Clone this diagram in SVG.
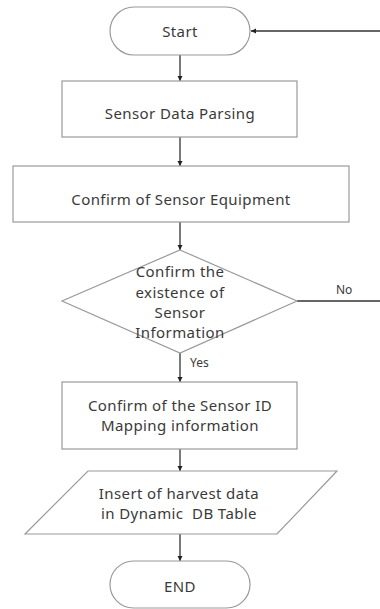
<svg xmlns="http://www.w3.org/2000/svg" width="380" height="609" viewBox="0 0 380 609">
<style>
.shape{fill:#fff;stroke:#9a9a9a;stroke-width:1.2}
.t{font-family:"Noto Sans","Open Sans",sans-serif;font-size:15px;letter-spacing:0.4px;fill:#3a3a3a;text-anchor:middle}
.lbl{font-family:"Noto Sans","Open Sans",sans-serif;font-size:12px;fill:#3a3a3a}
.c{stroke:#333;stroke-width:1.3;fill:none}
</style>
<defs>
<marker id="ah" markerWidth="6" markerHeight="6" refX="5" refY="3" orient="auto" markerUnits="userSpaceOnUse">
<path d="M0,0.5 L5,3 L0,5.5 Z" fill="#222"/>
</marker>
</defs>
<rect width="380" height="609" fill="#fff"/>
<g id="connectors">
<line class="c" x1="380" y1="31" x2="251" y2="31" marker-end="url(#ah)"/>
<line class="c" x1="180" y1="55" x2="180" y2="81" marker-end="url(#ah)"/>
<line class="c" x1="180" y1="137" x2="180" y2="166" marker-end="url(#ah)"/>
<line class="c" x1="180" y1="222" x2="180" y2="250" marker-end="url(#ah)"/>
<line class="c" x1="297" y1="301" x2="380" y2="301"/>
<line class="c" x1="180" y1="353" x2="180" y2="382" marker-end="url(#ah)"/>
<line class="c" x1="180" y1="449" x2="180" y2="471" marker-end="url(#ah)"/>
<line class="c" x1="180" y1="534" x2="180" y2="561" marker-end="url(#ah)"/>
<text class="lbl" x="336" y="294">No</text>
<text class="lbl" x="190" y="367">Yes</text>
</g>
<g id="start">
<rect class="shape" x="110" y="7" width="140" height="48" rx="24"/>
<text class="t" x="180" y="37">Start</text>
</g>
<g id="parsing">
<rect class="shape" x="62" y="81" width="235" height="56"/>
<text class="t" x="180" y="119">Sensor Data Parsing</text>
</g>
<g id="equipment">
<rect class="shape" x="13" y="166" width="336" height="56"/>
<text class="t" x="181" y="205">Confirm of Sensor Equipment</text>
</g>
<g id="decision">
<polygon class="shape" points="180,250 297,301 180,353 62,301"/>
<text class="t" x="180" y="277">Confirm the</text>
<text class="t" x="180" y="298">existence of</text>
<text class="t" x="180" y="318">Sensor</text>
<text class="t" x="180" y="338">Information</text>
</g>
<g id="mapping">
<rect class="shape" x="62" y="382" width="235" height="67"/>
<text class="t" x="180" y="411">Confirm of the Sensor ID</text>
<text class="t" x="180" y="431">Mapping information</text>
</g>
<g id="insert">
<polygon class="shape" points="88,471 337,471 277,534 25,534"/>
<text class="t" x="179" y="499">Insert of harvest data</text>
<text class="t" x="179" y="519" xml:space="preserve">in Dynamic  DB Table</text>
</g>
<g id="end">
<rect class="shape" x="110" y="561" width="140" height="47" rx="23.5"/>
<text class="t" x="180" y="592">END</text>
</g>
</svg>
